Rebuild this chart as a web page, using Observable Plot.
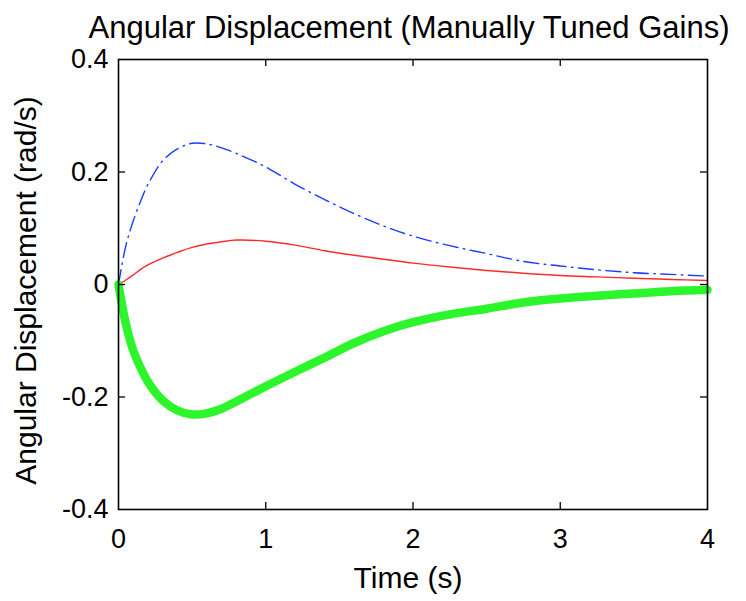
<!DOCTYPE html>
<html><head><meta charset="utf-8">
<script src="https://cdn.jsdelivr.net/npm/d3@7"></script>
<script src="https://cdn.jsdelivr.net/npm/@observablehq/plot@0.6"></script>
<style>html,body{margin:0;padding:0;background:#fff;} svg{display:block}</style>
</head><body><div id="chart"></div>
<script>
const title = "Angular Displacement (Manually Tuned Gains)";
const xLabel = "Time (s)";
const yLabel = "Angular Displacement (rad/s)";
const xTicks = [0, 1, 2, 3, 4];
const xTickLabels = ["0", "1", "2", "3", "4"];
const yTicks = [-0.4, -0.2, 0, 0.2, 0.4];
const yTickLabels = ["-0.4", "-0.2", "0", "0.2", "0.4"];
const time = [0, 0.05, 0.1, 0.15, 0.2, 0.3, 0.4, 0.5, 0.6, 0.7, 0.8, 1.0, 1.2, 1.4, 1.6, 1.8, 2.0, 2.25, 2.5, 2.75, 3.0, 3.25, 3.5, 3.75, 4.0];
const blueSeries  = [0, 0.069, 0.113, 0.148, 0.178, 0.220, 0.241, 0.251, 0.250, 0.243, 0.233, 0.209, 0.178, 0.151, 0.126, 0.104, 0.086, 0.069, 0.055, 0.041, 0.033, 0.026, 0.021, 0.018, 0.015];
const redSeries   = [0, 0.008, 0.017, 0.027, 0.035, 0.047, 0.057, 0.066, 0.072, 0.076, 0.079, 0.077, 0.070, 0.060, 0.052, 0.045, 0.038, 0.031, 0.025, 0.020, 0.016, 0.0135, 0.011, 0.009, 0.007];
const greenSeries = [0, -0.070, -0.117, -0.148, -0.173, -0.206, -0.224, -0.231, -0.229, -0.221, -0.208, -0.181, -0.155, -0.130, -0.104, -0.083, -0.067, -0.053, -0.043, -0.032, -0.025, -0.020, -0.016, -0.012, -0.0095];

const rows = vals => time.map((t, i) => ({t, v: vals[i]}));
const W = 746, H = 601, mL = 118, mR = 39, mT = 59, mB = 92;
const innerW = W - mL - mR, innerH = H - mT - mB;
const tickLen = 7;
const font = "'Liberation Sans', Arial, Helvetica, sans-serif";

const chart = Plot.plot({
  width: W, height: H,
  marginLeft: mL, marginRight: mR, marginTop: mT, marginBottom: mB,
  style: {fontFamily: font, background: "white", color: "black"},
  x: {domain: [0, 4]},
  y: {domain: [-0.4, 0.4]},
  marks: [
    Plot.axisX(xTicks, {anchor: "bottom", tickSize: 0, tickPadding: 19, fontSize: 27, label: null,
      tickFormat: d => xTickLabels[xTicks.indexOf(d)]}),
    Plot.axisY(yTicks, {anchor: "left", tickSize: 0, tickPadding: 10, fontSize: 27, label: null,
      tickFormat: d => yTickLabels[yTicks.indexOf(d)]}),
    Plot.line(rows(blueSeries), {x: "t", y: "v", stroke: "#1a3cff", strokeWidth: 1.4,
      strokeDasharray: "15,5.5,1.5,5.5", curve: "catmull-rom"}),
    Plot.line(rows(redSeries), {x: "t", y: "v", stroke: "#ff2a2a", strokeWidth: 1.4, curve: "catmull-rom"}),
    Plot.line(rows(greenSeries), {x: "t", y: "v", stroke: "#2cf52c", strokeWidth: 8.5, curve: "catmull-rom"}),
    Plot.frame({stroke: "black", strokeWidth: 1.6}),
    Plot.tickX(xTicks.slice(1, -1), {x: d => d, insetTop: innerH - tickLen, stroke: "black", strokeWidth: 1.3}),
    Plot.tickX(xTicks.slice(1, -1), {x: d => d, insetBottom: innerH - tickLen, stroke: "black", strokeWidth: 1.3}),
    Plot.tickY(yTicks.slice(1, -1), {y: d => d, insetRight: innerW - tickLen, stroke: "black", strokeWidth: 1.3}),
    Plot.tickY(yTicks.slice(1, -1), {y: d => d, insetLeft: innerW - tickLen, stroke: "black", strokeWidth: 1.3}),
    Plot.text([title], {text: d => d, frameAnchor: "top", lineAnchor: "middle", textAnchor: "middle",
      dy: -31, dx: -4, fontSize: 31}),
    Plot.text([xLabel], {text: d => d, frameAnchor: "bottom", lineAnchor: "middle", textAnchor: "middle",
      dy: 69, dx: -5, fontSize: 30}),
    Plot.text([yLabel], {text: d => d, frameAnchor: "left", lineAnchor: "middle", textAnchor: "middle",
      dx: -92, dy: 6, rotate: -90, fontSize: 30})
  ]
});
document.getElementById("chart").appendChild(chart);
</script>
</body></html>
